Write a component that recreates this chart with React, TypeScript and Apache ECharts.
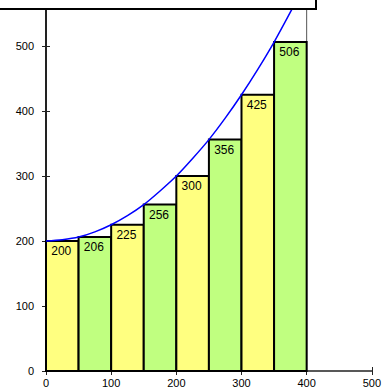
import React, { useEffect, useRef } from "react";
import * as echarts from "echarts";

const barStarts = [0, 50, 100, 150, 200, 250, 300, 350];
const barEnds = [50, 100, 150, 200, 250, 300, 350, 400];
const barValues = [200, 206, 225, 256, 300, 356, 425, 506];
const curveX = [0, 25, 50, 75, 100, 125, 150, 175, 200, 225, 250, 275, 300, 325, 350, 375, 400];
const curveY = [200, 202, 206, 214, 225, 239, 256, 277, 300, 327, 356, 389, 425, 464, 506, 552, 600];
const boundX = [400, 400];
const boundY = [0, 560];
const xTicks = [0, 100, 200, 300, 400, 500];
const yTicks = [0, 100, 200, 300, 400, 500];

const YELLOW = "#FFFF80";
const GREEN = "#C0FF80";
const FONT = "Liberation Sans";

export default function App() {
  const ref = useRef<HTMLDivElement>(null);
  useEffect(() => {
    if (!ref.current) return;
    const chart = echarts.init(ref.current, null, { renderer: "svg" });
    const tickLabel = { color: "#000", fontSize: 11, fontFamily: FONT };
    const grid = { left: 46, right: 11, top: 7, bottom: 15 };
    const xBase = {
      type: "value" as const,
      min: 0,
      max: 500,
      interval: 100,
      splitLine: { show: false },
    };
    const yBase = {
      type: "value" as const,
      min: 0,
      max: 560,
      interval: 100,
      splitLine: { show: false },
    };
    chart.setOption({
      animation: false,
      grid,
      xAxis: [
        {
          ...xBase,
          axisLine: { show: true, lineStyle: { color: "#222", width: 1.5 } },
          axisTick: { show: true, inside: false, length: 4, lineStyle: { color: "#222" } },
          axisLabel: {
            ...tickLabel,
            margin: 6,
            formatter: (v: number) => (xTicks.includes(v) ? String(v) : ""),
          },
        },
        {
          ...xBase,
          position: "bottom",
          axisLine: { show: false },
          axisTick: { show: true, inside: true, length: 4, lineStyle: { color: "#222" } },
          axisLabel: { show: false },
        },
      ],
      yAxis: [
        {
          ...yBase,
          axisLine: { show: true, lineStyle: { color: "#222", width: 2 } },
          axisTick: { show: true, inside: false, length: 4, lineStyle: { color: "#222" } },
          axisLabel: {
            ...tickLabel,
            margin: 12,
            showMaxLabel: false,
            formatter: (v: number) => (yTicks.includes(v) ? String(v) : ""),
          },
        },
        {
          ...yBase,
          position: "left",
          axisLine: { show: false },
          axisTick: { show: true, inside: true, length: 4, lineStyle: { color: "#222" } },
          axisLabel: { show: false },
        },
      ],
      series: [
        {
          type: "line",
          data: boundX.map((x, i) => [x, boundY[i]]),
          symbol: "none",
          lineStyle: { color: "#555", width: 1 },
          z: 1,
        },
        {
          type: "custom",
          data: barStarts.map((s, i) => [s, barEnds[i], barValues[i]]),
          z: 2,
          renderItem: (params: any, api: any) => {
            const x0 = api.value(0);
            const x1 = api.value(1);
            const h = api.value(2);
            const tl = api.coord([x0, h]);
            const br = api.coord([x1, 0]);
            return {
              type: "group",
              children: [
                {
                  type: "rect",
                  shape: { x: tl[0], y: tl[1], width: br[0] - tl[0], height: br[1] - tl[1] },
                  style: {
                    fill: params.dataIndex % 2 === 0 ? YELLOW : GREEN,
                    stroke: "#000",
                    lineWidth: 2,
                  },
                },
                {
                  type: "text",
                  style: {
                    text: String(h),
                    x: (tl[0] + br[0]) / 2 - 1,
                    y: tl[1] + 4,
                    align: "center",
                    verticalAlign: "top",
                    font: `12px "${FONT}"`,
                    fill: "#000",
                  },
                },
              ],
            };
          },
        },
        {
          type: "line",
          data: curveX.map((x, i) => [x, curveY[i]]),
          symbol: "none",
          smooth: 0.3,
          clip: true,
          lineStyle: { color: "#0000FF", width: 1.5 },
          z: 3,
        },
      ],
      graphic: [
        {
          type: "rect",
          shape: { x: -4, y: -4, width: 320, height: 13 },
          style: { fill: "#fff", stroke: "#000", lineWidth: 2 },
          z: 100,
        },
      ],
    });
    return () => chart.dispose();
  }, []);
  return <div ref={ref} style={{ width: 384, height: 388, position: "absolute", left: 0, top: 0 }} />;
}
